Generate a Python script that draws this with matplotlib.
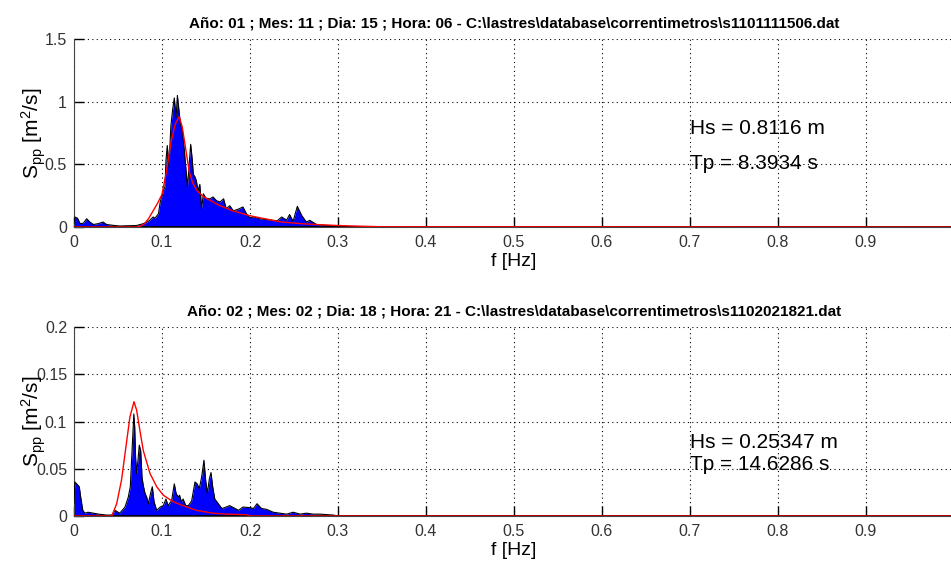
import matplotlib
matplotlib.use("Agg")
import matplotlib.pyplot as plt

# frequency / spectrum readings, panel 1
f1 = [0, 0.001, 0.004, 0.007, 0.0106, 0.0144, 0.018, 0.022, 0.0277, 0.033,
      0.037, 0.045, 0.052, 0.06, 0.071, 0.079, 0.083, 0.086, 0.09, 0.092,
      0.096, 0.098, 0.0996, 0.1015, 0.1034, 0.1045, 0.106, 0.108, 0.110, 0.112,
      0.114, 0.116, 0.1175, 0.119, 0.121, 0.123, 0.125, 0.127, 0.129, 0.1307,
      0.1326, 0.1345, 0.1356, 0.1375, 0.139, 0.141, 0.143, 0.145, 0.147, 0.150,
      0.1545, 0.158, 0.162, 0.166, 0.170, 0.173, 0.177, 0.181, 0.186, 0.192,
      0.196, 0.200, 0.204, 0.211, 0.218, 0.226, 0.231, 0.236, 0.2417, 0.245,
      0.249, 0.2538, 0.2587, 0.264, 0.268, 0.2758, 0.287, 0.298, 0.31, 0.32, 1.0]
s1 = [0.03, 0.08, 0.07, 0.027, 0.03, 0.066, 0.04, 0.02, 0.027, 0.04,
      0.02, 0.013, 0.008, 0.01, 0.012, 0.027, 0.04, 0.053, 0.08, 0.07,
      0.106, 0.2, 0.24, 0.29, 0.32, 0.53, 0.65, 0.48, 0.8, 0.93,
      1.03, 0.87, 1.05, 0.95, 0.82, 0.77, 0.64, 0.48, 0.32, 0.48,
      0.66, 0.53, 0.42, 0.40, 0.37, 0.29, 0.34, 0.146, 0.265, 0.23,
      0.225, 0.24, 0.21, 0.2, 0.225, 0.146, 0.17, 0.13, 0.14, 0.16,
      0.106, 0.074, 0.08, 0.066, 0.06, 0.053, 0.05, 0.08, 0.055, 0.1,
      0.045, 0.165, 0.093, 0.04, 0.053, 0.02, 0.013, 0.01, 0.005, 0.0, 0.0]
# fitted spectrum, panel 1
fr1 = [0, 0.07, 0.075, 0.08, 0.085, 0.09, 0.095, 0.1, 0.105, 0.11,
       0.115, 0.1195, 0.123, 0.127, 0.131, 0.135, 0.14, 0.145, 0.15, 0.158,
       0.166, 0.18, 0.192, 0.2, 0.211, 0.22, 0.234, 0.249, 0.26, 0.28,
       0.3, 0.317, 0.35, 1.0]
r1 = [0, 0, 0.005, 0.025, 0.07, 0.13, 0.19, 0.26, 0.44, 0.67,
      0.82, 0.88, 0.8, 0.62, 0.44, 0.35, 0.29, 0.255, 0.23, 0.2,
      0.17, 0.13, 0.106, 0.09, 0.074, 0.062, 0.042, 0.032, 0.026, 0.018,
      0.012, 0.008, 0.002, 0]

# panel 2
f2 = [0, 0.001, 0.003, 0.006, 0.0076, 0.01, 0.0125, 0.016, 0.022, 0.028,
      0.037, 0.043, 0.0466, 0.052, 0.058, 0.0617, 0.064, 0.0667, 0.068, 0.069,
      0.070, 0.0712, 0.0727, 0.0742, 0.0758, 0.0773, 0.0788, 0.0807, 0.0826, 0.0845,
      0.087, 0.089, 0.091, 0.094, 0.098, 0.1015, 0.1045, 0.107, 0.111, 0.114,
      0.116, 0.1186, 0.12, 0.122, 0.124, 0.127, 0.13, 0.1337, 0.1375, 0.14,
      0.1424, 0.145, 0.1477, 0.1496, 0.1515, 0.1538, 0.1557, 0.1576, 0.16, 0.164,
      0.168, 0.1716, 0.177, 0.181, 0.187, 0.192, 0.198, 0.204, 0.208, 0.213,
      0.219, 0.2265, 0.234, 0.2417, 0.249, 0.257, 0.264, 0.272, 0.2795, 0.287,
      0.2947, 0.30, 0.31, 1.0]
s2 = [0.013, 0.036, 0.034, 0.031, 0.02, 0.006, 0.003, 0.004, 0.003, 0.002,
      0.001, 0.001, 0.006, 0.003, 0.0095, 0.02, 0.031, 0.083, 0.108, 0.094,
      0.062, 0.045, 0.059, 0.075, 0.069, 0.041, 0.032, 0.024, 0.02, 0.013,
      0.024, 0.031, 0.015, 0.006, 0.0095, 0.011, 0.018, 0.011, 0.0165, 0.034,
      0.024, 0.02, 0.022, 0.015, 0.018, 0.011, 0.011, 0.016, 0.036, 0.034,
      0.029, 0.041, 0.059, 0.038, 0.024, 0.039, 0.046, 0.031, 0.018, 0.013,
      0.008, 0.009, 0.011, 0.009, 0.006, 0.0095, 0.009, 0.008, 0.013, 0.008,
      0.007, 0.004, 0.003, 0.002, 0.004, 0.002, 0.003, 0.002, 0.002, 0.0015,
      0.001, 0.0, 0.0, 0.0]
fr2 = [0, 0.043, 0.0485, 0.054, 0.06, 0.0636, 0.0682, 0.0712, 0.075, 0.0788,
       0.0864, 0.094, 0.1015, 0.113, 0.124, 0.139, 0.158, 0.173, 0.196, 0.2, 1.0]
r2 = [0, 0, 0.013, 0.038, 0.08, 0.105, 0.121, 0.112, 0.09, 0.069,
      0.045, 0.031, 0.022, 0.015, 0.011, 0.006, 0.003, 0.002, 0.0014, 0, 0]

titles = [r"Año: 01 ; Mes: 11 ; Dia: 15 ; Hora: 06 - C:\lastres\database\correntimetros\s1101111506.dat",
          r"Año: 02 ; Mes: 02 ; Dia: 18 ; Hora: 21 - C:\lastres\database\correntimetros\s1102021821.dat"]
hs_txt = ["Hs = 0.8116 m", "Hs = 0.25347 m"]
tp_txt = ["Tp = 8.3934 s", "Tp = 14.6286 s"]
yticks = [[0, 0.5, 1, 1.5], [0, 0.05, 0.1, 0.15, 0.2]]
ytlabels = [["0", "0.5", "1", "1.5"], ["0", "0.05", "0.1", "0.15", "0.2"]]
xticks = [0, 0.1, 0.2, 0.3, 0.4, 0.5, 0.6, 0.7, 0.8, 0.9, 1.0]
xtlabels = ["0", "0.1", "0.2", "0.3", "0.4", "0.5", "0.6", "0.7", "0.8", "0.9", ""]

plt.rcParams["font.family"] = ["Liberation Sans", "DejaVu Sans"]
plt.rcParams["mathtext.default"] = "regular"

fig = plt.figure(figsize=(9.51, 5.65), dpi=100)
positions = [[0.0778, 0.5982, 0.9253, 0.3327], [0.0778, 0.0867, 0.9253, 0.3345]]
panels = [(f1, s1, fr1, r1, 1.5, 0.79, 0.51), (f2, s2, fr2, r2, 0.2, 0.078, 0.054)]

for i, (f, s, fr, r, ytop, hs_y, tp_y) in enumerate(panels):
    ax = fig.add_axes(positions[i])
    ax.fill_between(f, s, 0, color="#0000ff", linewidth=0, zorder=2)
    ax.plot(f, s, color="black", lw=0.8, zorder=3)
    ax.plot([0, 1], [0, 0], color="black", lw=2.0, zorder=3)
    ax.plot(fr, r, color="#ff0000", lw=1.0, zorder=4)
    ax.set_xlim(0, 1)
    ax.set_ylim(0, ytop)
    ax.set_xticks(xticks)
    ax.set_xticklabels(xtlabels, fontsize=11.5, color="#333333")
    ax.set_yticks(yticks[i])
    ax.set_yticklabels(ytlabels[i], fontsize=11.5, color="#333333")
    ax.tick_params(direction="in", length=7, width=1)
    ax.tick_params(axis="x", pad=6)
    ax.tick_params(axis="y", pad=5)
    ax.grid(True, color="black", linestyle=(0, (1, 3)), lw=0.8)
    ax.set_axisbelow(True)
    for side in ["top", "right"]:
        ax.spines[side].set_visible(False)
    ax.spines["left"].set_color("#444444")
    ax.spines["bottom"].set_color("#444444")
    ax.set_title(titles[i], fontsize=11, fontweight="bold", pad=8)
    ax.set_xlabel("f [Hz]", fontsize=14, labelpad=2)
    ax.set_ylabel(r"S$_{pp}$ [m$^2$/s]", fontsize=15)
    ax.yaxis.set_label_coords(-0.03, 0.5)
    ax.text(0.7, hs_y, hs_txt[i], fontsize=15, va="center", ha="left")
    ax.text(0.7, tp_y, tp_txt[i], fontsize=15, va="center", ha="left")

fig.savefig("out.png", dpi=100)
